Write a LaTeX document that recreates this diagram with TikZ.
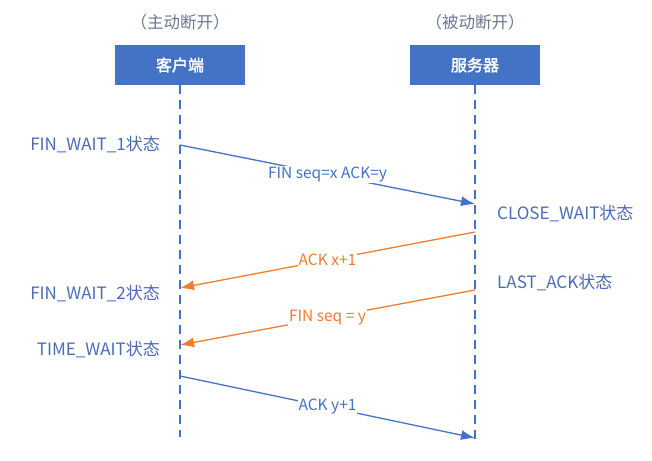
\documentclass[tikz,border=0pt]{standalone}
\usepackage{fontspec}
\setmainfont{Noto Sans CJK SC}[AutoFakeBold=2]
\usetikzlibrary{arrows.meta}
\definecolor{hostblue}{HTML}{4472C4}
\definecolor{finorange}{HTML}{ED7D31}
\definecolor{statetext}{HTML}{4A6BB5}
\definecolor{notetext}{HTML}{6B778F}
\tikzset{
  hostbox/.style={fill=hostblue, text=white, font=\fontsize{16}{18}\selectfont\bfseries,
    minimum width=130pt, minimum height=40pt, inner sep=0pt},
  hostnote/.style={text=notetext, font=\fontsize{16.5}{18}\selectfont},
  lifeline/.style={hostblue, line width=1.1pt, dash pattern=on 9pt off 6pt},
  state/.style={text=statetext, font=\fontsize{17}{19}\selectfont, inner sep=0pt},
  msg/.style={line width=1.3pt, -{Latex[length=14pt,width=10pt]}},
  msglabel/.style={fill=white, font=\fontsize{15.5}{17}\selectfont, inner sep=1pt},
}
\begin{document}
\begin{tikzpicture}[x=1pt, y=-1pt]
\useasboundingbox (0,0) rectangle (652,460);
% hosts
\node[hostnote] (clientnote) at (180,22) {（主动断开）};
\node[hostnote] (servernote) at (475,22) {（被动断开）};
\node[hostbox] (client) at (180,65) {客户端};
\node[hostbox] (server) at (475,65) {服务器};
\coordinate (clientend) at (180,437);
\coordinate (serverend) at (475,440);
\draw[lifeline] (client.south) -- (clientend);
\draw[lifeline] (server.south) -- (serverend);
% message ends on the lifelines
\foreach \n/\y in {c1/145,c2/288,c3/345,c4/376} \coordinate (\n) at (180,\y);
\foreach \n/\y in {s1/204,s2/232,s3/290,s4/438} \coordinate (\n) at (475,\y);
% states
\node[state, anchor=east] (finwait1) at (160,145) {FIN\_WAIT\_1状态};
\node[state, anchor=east] (finwait2) at (160,294) {FIN\_WAIT\_2状态};
\node[state, anchor=east] (timewait) at (160,350) {TIME\_WAIT状态};
\node[state, anchor=west] (closewait) at (497,214) {CLOSE\_WAIT状态};
\node[state, anchor=west] (lastack) at (497,283) {LAST\_ACK状态};
% messages
\draw[msg, hostblue] (c1) -- node[msglabel, text=hostblue] (fin1) {FIN seq=x ACK=y} (s1);
\draw[msg, finorange] (s2) -- node[msglabel, text=finorange] (ack1) {ACK x+1} (c2);
\draw[msg, finorange] (s3) -- node[msglabel, text=finorange] (fin2) {FIN seq = y} (c3);
\draw[msg, hostblue] (c4) -- node[msglabel, text=hostblue] (ack2) {ACK y+1} (s4);
\end{tikzpicture}
\end{document}
